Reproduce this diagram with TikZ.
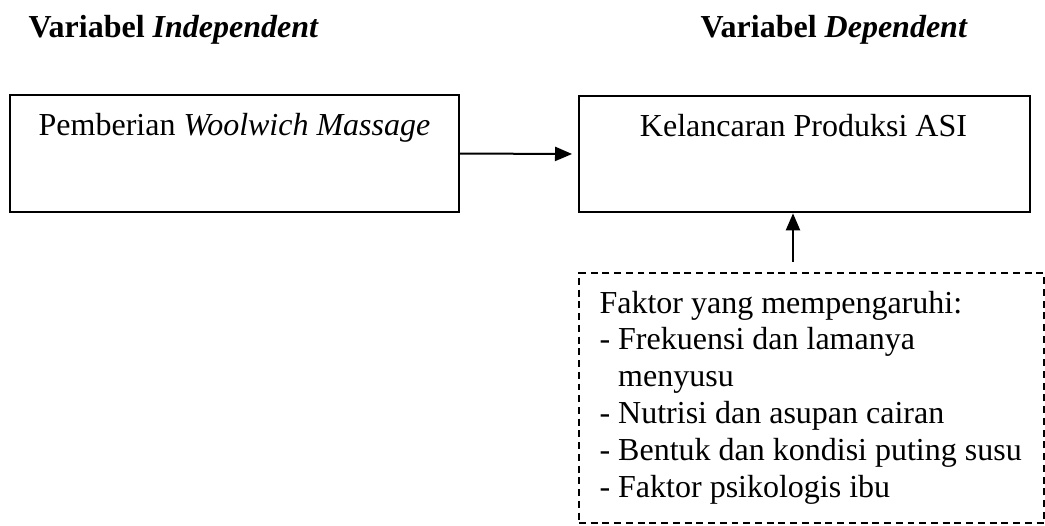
\documentclass[tikz,border=0pt]{standalone}
\usepackage{fontspec}
\setmainfont{Liberation Serif}
\usetikzlibrary{arrows.meta}
\begin{document}
\begin{tikzpicture}[x=0.375pt,y=-0.375pt,
  box/.style={draw,line width=0.75pt,rectangle,inner sep=0pt,outer sep=0pt,anchor=north west},
  dbox/.style={draw,line width=0.55pt,dash pattern=on 2.6pt off 1.8pt,rectangle,inner sep=0pt,outer sep=0pt,anchor=north west},
  lbl/.style={inner sep=0pt,font=\fontsize{12}{13.8}\selectfont},
  conn/.style={line width=0.75pt,-{Triangle[length=6.4pt,width=5.3pt]}}]
\useasboundingbox (0,0) rectangle (1045,525);
% headers
\node[lbl,anchor=base west,font=\fontsize{12}{13.8}\selectfont\bfseries] (h1) at (28,37) {Variabel \textit{Independent}};
\node[lbl,anchor=base west,font=\fontsize{12}{13.8}\selectfont\bfseries] (h2) at (700,37) {Variabel \textit{Dependent}};
% boxes
\node[box,minimum width=168.4pt,minimum height=43.9pt] (lbox) at (10,95) {};
\node[box,minimum width=169.1pt,minimum height=43.5pt] (rbox) at (579,96) {};
\node[dbox,minimum width=174.4pt,minimum height=93.75pt] (fbox) at (579,273) {};
% texts
\node[lbl,anchor=base] (ltext) at (234.5,135) {Pemberian \textit{Woolwich Massage}};
\node[lbl,anchor=base] (rtext) at (803.5,136) {Kelancaran Produksi ASI};
\node[lbl,anchor=base west] (ftext) at (599,313)
  {\renewcommand{\arraystretch}{1}\setlength{\tabcolsep}{0pt}%
   \begin{tabular}[t]{l}
   Faktor yang mempengaruhi:\\
   - Frekuensi dan lamanya\\
   \hphantom{- }menyusu\\
   - Nutrisi dan asupan cairan\\
   - Bentuk dan kondisi puting susu\\
   - Faktor psikologis ibu
   \end{tabular}};
% connectors
\coordinate (ax) at (793,0);
\draw[conn,shorten >=2.6pt] (lbox.east) -- (rbox.west);
\draw[conn,shorten <=4.1pt,shorten >=0.5pt] (fbox.north -| ax) -- (rbox.south -| ax);
\end{tikzpicture}
\end{document}
